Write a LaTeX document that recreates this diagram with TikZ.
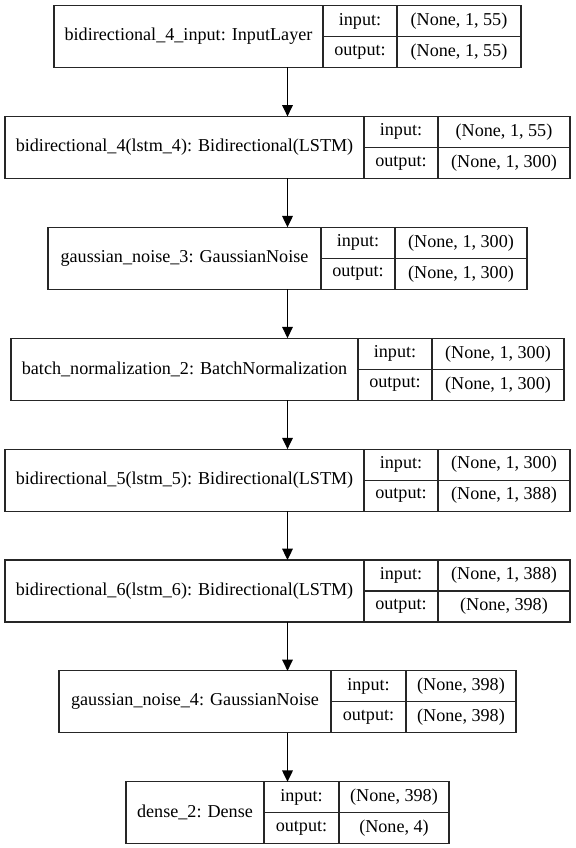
\documentclass[tikz,border=0pt]{standalone}
\usepackage{fontspec}
\setmainfont{Liberation Serif}
\usetikzlibrary{arrows.meta}

% one record box per layer: outer frame, two column rules, one row rule, four texts
% #1 name, #2 top, #3 left, #4 first rule, #5 second rule, #6 right,
% #7 layer text, #8 input shape, #9 output shape
\newcommand{\kerasrecord}[9]{%
  \node[recbox, minimum width={(#6-#3)*0.75pt}, minimum height=46.5pt]
    (#1) at ({(#3+#6)/2},{#2+31}) {};
  \draw[recline] (#4,#2) -- (#4,#2+62);
  \draw[recline] (#5,#2) -- (#5,#2+62);
  \draw[recline] (#4,#2+31) -- (#6,#2+31);
  \node[rectxt] (#1-name) at ({(#3+#4)/2},{#2+31}) {#7};
  \node[rectxt] (#1-inkey) at ({(#4+#5)/2},{#2+15.5}) {input:};
  \node[rectxt] (#1-outkey) at ({(#4+#5)/2},{#2+46.5}) {output:};
  \node[rectxt] (#1-inval) at ({(#5+#6)/2},{#2+15.5}) {#8};
  \node[rectxt] (#1-outval) at ({(#5+#6)/2},{#2+46.5}) {#9};
}

\begin{document}
\begin{tikzpicture}[x=0.75pt,y=-0.75pt,
  recbox/.style={draw=black!85, line width=0.85pt, rectangle, inner sep=0pt, outer sep=0pt, fill=white},
  recline/.style={draw=black!85, line width=0.85pt},
  rectxt/.style={inner sep=0pt, font=\fontsize{13.6}{16}\selectfont},
  flow/.style={draw=black, line width=0.85pt, -{Triangle[length=8.5pt,width=8pt]}}]
\useasboundingbox[fill=white] (0,0) rectangle (575,848);

\kerasrecord{L1}{5.5}{54}{323}{397}{521}{bidirectional\_4\_input: InputLayer}{(None, 1, 55)}{(None, 1, 55)}
\kerasrecord{L2}{116.4}{5}{364}{438}{570}{bidirectional\_4(lstm\_4): Bidirectional(LSTM)}{(None, 1, 55)}{(None, 1, 300)}
\kerasrecord{L3}{227.3}{48}{321}{395}{527}{gaussian\_noise\_3: GaussianNoise}{(None, 1, 300)}{(None, 1, 300)}
\kerasrecord{L4}{338.2}{11}{358}{432}{564}{batch\_normalization\_2: BatchNormalization}{(None, 1, 300)}{(None, 1, 300)}
\kerasrecord{L5}{449.1}{5}{364}{438}{570}{bidirectional\_5(lstm\_5): Bidirectional(LSTM)}{(None, 1, 300)}{(None, 1, 388)}
\kerasrecord{L6}{560.0}{5}{364}{438}{570}{bidirectional\_6(lstm\_6): Bidirectional(LSTM)}{(None, 1, 388)}{(None, 398)}
\kerasrecord{L7}{670.9}{59}{331}{406}{516}{gaussian\_noise\_4: GaussianNoise}{(None, 398)}{(None, 398)}
\kerasrecord{L8}{781.8}{126}{264}{339}{449}{dense\_2: Dense}{(None, 398)}{(None, 4)}

\foreach \a/\b in {L1/L2,L2/L3,L3/L4,L4/L5,L5/L6,L6/L7,L7/L8}
  \draw[flow] (\a.south) -- (\b.north);
\end{tikzpicture}
\end{document}
